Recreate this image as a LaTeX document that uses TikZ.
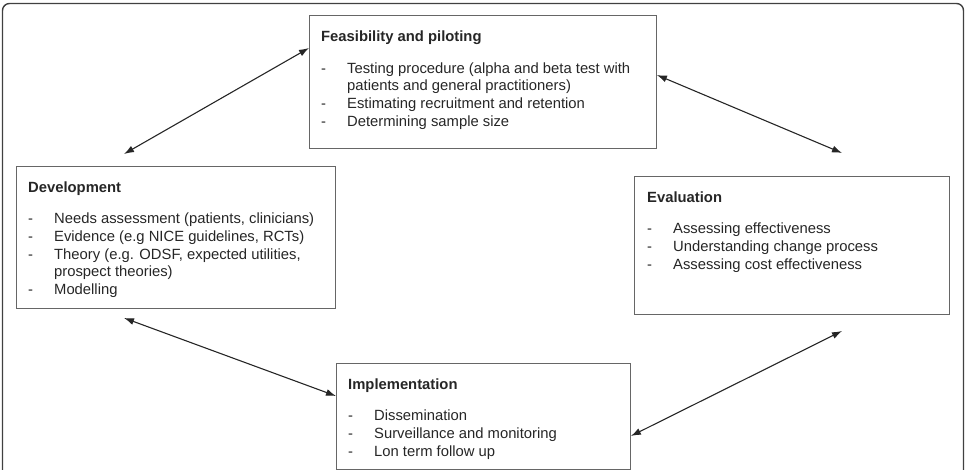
\documentclass[tikz,border=0pt]{standalone}
\usepackage{fontspec}
\setmainfont{Liberation Sans}
\usetikzlibrary{arrows.meta, positioning}
\tikzset{
  stagebox/.style={rectangle, draw=black!60, line width=0.9pt, anchor=north west,
    inner sep=0pt},
  stagetext/.style={align=left, inner sep=0pt, text=black!85,
    font=\fontsize{14.8}{17.7}\selectfont},
  arrow/.style={{Latex[length=10pt, width=7pt]}-{Latex[length=10pt, width=7pt]},
    line width=1.1pt, black!85},
  frame/.style={draw=black!75, line width=1.4pt, rounded corners=7pt}
}
\newcommand{\stagetitle}[1]{\textbf{#1}\\[13.5pt]}
\newcommand{\dashline}[1]{\makebox[26pt][l]{-}#1}
\newcommand{\contline}[1]{\hspace*{26pt}#1}

\begin{document}
\begin{tikzpicture}[x=1pt, y=-1pt]
  \useasboundingbox (0,0) rectangle (967,470);
  \draw[frame] (2.5,490) -- (2.5,3.5) -- (963.5,3.5) -- (963.5,490);

  % the four stages
  \node[stagebox, minimum width=347pt, minimum height=133pt] (feas) at (309,15) {};
  \node[stagebox, minimum width=319pt, minimum height=142pt] (dev)  at (16,166)  {};
  \node[stagebox, minimum width=315pt, minimum height=138pt] (eval) at (634,176) {};
  \node[stagebox, minimum width=294pt, minimum height=106pt] (impl) at (336,363) {};

  \node[stagetext, below right=16pt and 12pt of feas.north west] (feastext)
        {\stagetitle{Feasibility and piloting}
         \dashline{Testing procedure (alpha and beta test with}\\
         \contline{patients and general practitioners)}\\
         \dashline{Estimating recruitment and retention}\\
         \dashline{Determining sample size}};
  \node[stagetext, below right=15.5pt and 12pt of dev.north west] (devtext)
        {\stagetitle{Development}
         \dashline{Needs assessment (patients, clinicians)}\\
         \dashline{Evidence (e.g NICE guidelines, RCTs)}\\
         \dashline{Theory (e.g. ODSF, expected utilities,}\\
         \contline{prospect theories)}\\
         \dashline{Modelling}};
  \node[stagetext, below right=15.5pt and 13pt of eval.north west] (evaltext)
        {\stagetitle{Evaluation}
         \dashline{Assessing effectiveness}\\
         \dashline{Understanding change process}\\
         \dashline{Assessing cost effectiveness}};
  \node[stagetext, below right=15.5pt and 12pt of impl.north west] (impltext)
        {\stagetitle{Implementation}
         \dashline{Dissemination}\\
         \dashline{Surveillance and monitoring}\\
         \dashline{Lon term follow up}};

  % free ends of the arrows
  \coordinate (devtop)  at (124,154);
  \coordinate (devbot)  at (124,318);
  \coordinate (evaltop) at (842,153);
  \coordinate (evalbot) at (842,331);

  \draw[arrow] (devtop) -- ([yshift=-33pt]feas.north west);
  \draw[arrow] ([yshift=-60pt]feas.north east) -- (evaltop);
  \draw[arrow] (devbot) -- ([yshift=-33pt]impl.north west);
  \draw[arrow] ([yshift=-73pt]impl.north east) -- (evalbot);
\end{tikzpicture}
\end{document}
